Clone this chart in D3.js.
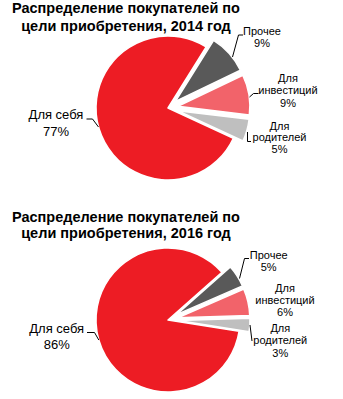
<!DOCTYPE html>
<html><head><meta charset="utf-8">
<script src="https://cdn.jsdelivr.net/npm/d3@7"></script>
<style>
html,body{margin:0;padding:0;background:#fff;}
svg{display:block;font-family:"Liberation Sans",Arial,sans-serif;}
</style></head><body>
<svg id="chart" width="343" height="399"></svg>
<script>
// ---- data ----
const categories = ["Прочее", "Для инвестиций", "Для родителей", "Для себя"];
const categoryLines = [["Прочее"], ["Для", "инвестиций"], ["Для", "родителей"], ["Для себя"]];
const values2014 = [9, 9, 5, 77];
const values2016 = [5, 6, 3, 86];
const titles2014 = ["Распределение покупателей по", "цели приобретения, 2014 год"];
const titles2016 = ["Распределение покупателей по", "цели приобретения, 2016 год"];

// ---- styles / layout ----
const colors = ["#595959", "#F2636A", "#BFBFBF", "#ED1C24"];
const exploded = [true, true, true, false];
const radius = 72, explode = 10;

const layouts = [
  { values: values2014, titles: titles2014, titleX: 126, titleY: [13.3, 30.7],
    cx: 168, cy: 108, startDeg: 32,
    labels: [
      {x: 262, y: 35, lh: 12.4},
      {x: 288, y: 81.7, lh: 12.4},
      {x: 279.5, y: 129.5, lh: 11.7},
      {x: 56, y: 119, lh: 16.5, big: true}
    ],
    leaders: [
      [[243,35],[238.5,35],[232.5,57]],
      [[258.5,93.5],[253.5,93.5],[249.5,97]],
      [[247.5,132],[247.5,141.5],[251,141.5]],
      [[86.5,119],[92.5,119],[98.5,127]]
    ]},
  { values: values2016, titles: titles2016, titleX: 126, titleY: [221.7, 238.3],
    cx: 168, cy: 320, startDeg: 48.5,
    labels: [
      {x: 268.7, y: 259, lh: 12.2},
      {x: 285, y: 291.7, lh: 12.2},
      {x: 280.3, y: 331.7, lh: 12.4},
      {x: 56.7, y: 332.5, lh: 16, big: true}
    ],
    leaders: [
      [[249,258.5],[244.5,258.5],[239.5,278.5]],
      null,
      [[250,325],[252,341]],
      [[87,332.5],[94.5,332.5],[98.8,340]]
    ]}
];

const svg = d3.select("#chart");
const arc = d3.arc().innerRadius(0).outerRadius(radius);
const line = d3.line();

layouts.forEach(L => {
  const toRad = Math.PI / 180;
  const pie = d3.pie().sort(null).value(d => d)
    .startAngle(L.startDeg * toRad).endAngle(L.startDeg * toRad + 2 * Math.PI);
  const arcs = pie(L.values);

  // title
  const t = svg.append("text").attr("text-anchor", "middle")
    .attr("font-weight", "bold").attr("font-size", "14.5px").attr("fill", "#000");
  L.titles.forEach((s, i) => t.append("tspan").attr("x", L.titleX).attr("y", L.titleY[i]).text(s));

  const g = svg.append("g").attr("transform", `translate(${L.cx},${L.cy})`);
  g.selectAll("path.slice").data(arcs).join("path")
    .attr("class", "slice")
    .attr("d", arc)
    .attr("fill", (d, i) => colors[i])
    .attr("stroke", "#fff").attr("stroke-width", 1.5).attr("stroke-linejoin", "round")
    .attr("transform", (d, i) => {
      if (!exploded[i]) return null;
      const a = (d.startAngle + d.endAngle) / 2;
      return `translate(${explode * Math.sin(a)},${-explode * Math.cos(a)})`;
    });

  // leaders
  L.leaders.forEach(pts => {
    if (!pts) return;
    svg.append("path").attr("d", line(pts)).attr("fill", "none")
      .attr("stroke", "#000").attr("stroke-width", 1);
  });

  // labels
  arcs.forEach((d, i) => {
    const lab = L.labels[i];
    const lines = categoryLines[i].concat([d3.format(".0f")(d.data) + "%"]);
    const tx = svg.append("text").attr("text-anchor", "middle")
      .attr("font-size", lab.big ? "13px" : "11px").attr("fill", "#000");
    lines.forEach((s, k) => tx.append("tspan").attr("x", lab.x).attr("y", lab.y + k * lab.lh).text(s));
  });
});
</script>
</body></html>
